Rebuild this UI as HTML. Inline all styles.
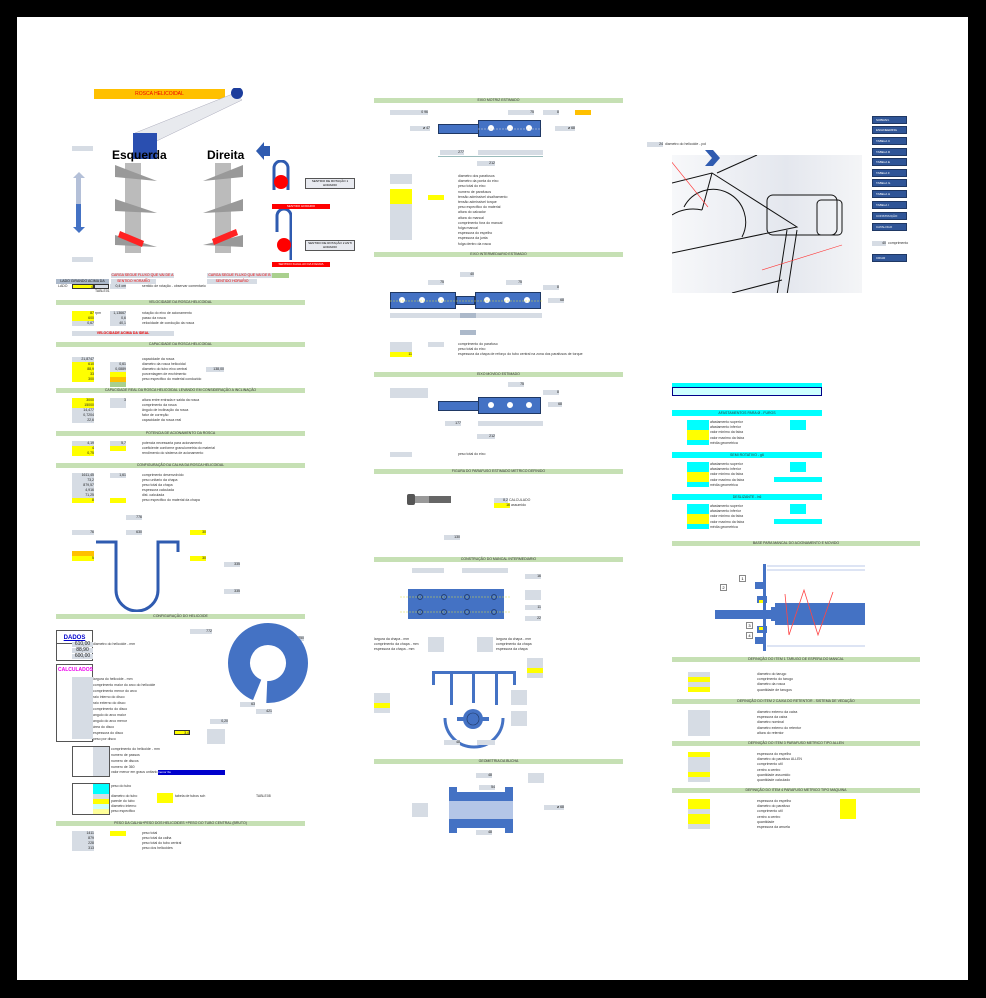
<!DOCTYPE html>
<html><head><meta charset="utf-8"><style>
*{margin:0;padding:0;box-sizing:border-box}
body{width:986px;height:998px;background:#000;position:relative;overflow:hidden;font-family:"Liberation Sans",sans-serif}
#pg{position:absolute;left:17px;top:17px;width:951px;height:963px;background:#fff}
.a{position:absolute}
.g{position:absolute;background:#c6e0b4;height:5px;font-size:3.5px;text-align:center;line-height:5px;color:#333}
.c{position:absolute;background:#00ffff;height:6px;font-size:3.5px;text-align:center;line-height:6px;color:#333}
.gr{position:absolute;background:#d6dce4;height:5px;font-size:3.5px;line-height:5px;text-align:right;color:#222}
.y{position:absolute;background:#ffff00;height:5px;font-size:3.5px;line-height:5px;text-align:right;color:#222}
.t{position:absolute;font-size:3.5px;line-height:5px;color:#333;white-space:nowrap}
.b{position:absolute;background:#4472c4}
.btn{position:absolute;left:872px;width:35px;height:8px;background:#2f5597;border:1px solid #1f3864;font-size:3px;color:#fff;line-height:6px;padding-left:3px}
</style></head><body>
<div id="pg"></div>
<!-- ===== LEFT COLUMN ===== -->
<div class="a" style="left:94px;top:89px;width:131px;height:10px;background:#ffc000;font-size:5px;color:#e00;text-align:center;line-height:10px">ROSCA HELICOIDAL</div>
<svg class="a" style="left:130px;top:88px" width="115" height="80"><polygon points="5,45 105,5 112,12 12,60" fill="#e8eaee" stroke="#aab" stroke-width=".5"/><polygon points="5,45 12,60 18,70 6,62" fill="#b8bcc4"/><rect x="3" y="45" width="24" height="26" fill="#2a4fb0"/><circle cx="107" cy="5" r="6" fill="#1c3d9c"/></svg>
<div class="a" style="left:112px;top:148px;font-size:12px;font-weight:bold">Esquerda</div>
<div class="a" style="left:207px;top:148px;font-size:12px;font-weight:bold">Direita</div>
<svg class="a" style="left:112px;top:163px" width="140" height="92">
<rect x="13" y="0" width="16" height="90" fill="#bbb"/><rect x="103" y="0" width="16" height="90" fill="#bbb"/>
<g fill="#999"><polygon points="3,2 45,18 3,14"/><polygon points="3,36 45,50 3,48"/><polygon points="3,72 45,84 3,82"/>
<polygon points="91,18 131,2 131,14"/><polygon points="91,50 131,36 131,48"/><polygon points="91,82 131,72 131,84"/></g>
<polygon points="8,68 32,78 30,84 6,74" fill="#f22"/><polygon points="100,76 124,66 126,72 102,82" fill="#f22"/></svg>
<div class="a" style="left:72px;top:146px;width:21px;height:5px;background:#d6dce4"></div>
<div class="a" style="left:72px;top:257px;width:21px;height:5px;background:#d6dce4"></div>
<svg class="a" style="left:72px;top:172px" width="14" height="62"><rect x="4" y="4" width="5" height="28" fill="#b4c0d8"/><rect x="4" y="32" width="5" height="24" fill="#4472c4"/><polygon points="1,6 7,0 13,6" fill="#b4c0d8"/><polygon points="1,55 7,61 13,55" fill="#4472c4"/></svg>
<svg class="a" style="left:256px;top:142px" width="14" height="18"><polygon points="0,9 8,0 8,4 14,4 14,14 8,14 8,18" fill="#2f5bb0"/></svg>
<svg class="a" style="left:270px;top:160px" width="22" height="110"><path d="M4,30 V8 a7,7 0 0 1 14,0 V30" stroke="#2f5bb0" stroke-width="3" fill="none"/><circle cx="11" cy="22" r="7" fill="#f00"/><path d="M7,72 V56 a7,7 0 0 1 14,0 V100" stroke="#2f5bb0" stroke-width="3" fill="none"/><circle cx="14" cy="85" r="7" fill="#f00"/></svg>
<div class="a" style="left:305px;top:178px;width:50px;height:11px;background:#e8eaf0;border:1px solid #555;font-size:3px;text-align:center">SENTIDO DE ROTAÇÃO 1 HORARIO</div>
<div class="a" style="left:305px;top:240px;width:50px;height:11px;background:#e8eaf0;border:1px solid #555;font-size:3px;text-align:center">SENTIDO DE ROTAÇÃO 2 ANTI HORARIO</div>
<div class="a" style="left:272px;top:204px;width:58px;height:5px;background:#f00;font-size:3px;color:#fff;text-align:center">SENTIDO HORARIO</div>
<div class="a" style="left:272px;top:262px;width:58px;height:5px;background:#f00;font-size:3px;color:#fff;text-align:center">SENTIDO IGUAL AO DA FIGURA</div>
<div class="gr" style="left:111px;top:273px;width:63px;text-align:center;color:#e00">CARGA SEGUE FLUXO QUE VAI DE A para B</div>
<div class="gr" style="left:207px;top:273px;width:65px;text-align:center;color:#e00">CARGA SEGUE FLUXO QUE VAI DE B para A</div>
<div class="a" style="left:272px;top:273px;width:17px;height:5px;background:#a9d08e"></div>
<div class="gr" style="left:56px;top:279px;width:53px;text-align:center;background:#acb9ca">LADO GIRANDO ACIMA DA</div>
<div class="gr" style="left:111px;top:279px;width:45px;text-align:center;color:#e00">SENTIDO HORARIO</div>
<div class="gr" style="left:207px;top:279px;width:50px;text-align:center;color:#e00">SENTIDO HORARIO</div>
<div class="t" style="left:58px;top:284px">LADO</div><div class="y" style="left:72px;top:284px;width:22px;border:1px solid #333">4</div><div class="gr" style="left:94px;top:284px;width:15px;border:1px solid #333"></div>
<div class="gr" style="left:110px;top:284px;width:16px">0,4 cm</div><div class="t" style="left:142px;top:284px">sentido de rotação - observar comentario</div>
<div class="t" style="left:95px;top:289px">TABLE01</div>

<div class="g" style="left:56px;top:300px;width:249px">VELOCIDADE DA ROSCA HELICOIDAL</div>
<div class="y" style="left:72px;top:311px;width:22px">87</div><div class="t" style="left:95px;top:311px">rpm</div><div class="gr" style="left:110px;top:311px;width:16px">1,13667</div><div class="t" style="left:142px;top:311px">rotação do eixo de acionamento</div>
<div class="y" style="left:72px;top:316px;width:22px">600</div><div class="gr" style="left:110px;top:316px;width:16px">0,6</div><div class="t" style="left:142px;top:316px">passo da rosca</div>
<div class="gr" style="left:72px;top:321px;width:22px">0,67</div><div class="gr" style="left:110px;top:321px;width:16px">40,1</div><div class="t" style="left:142px;top:321px">velocidade de condução da rosca</div>
<div class="gr" style="left:72px;top:331px;width:102px;text-align:center;color:#e00;font-weight:bold">VELOCIDADE ACIMA DA IDEAL</div>

<div class="g" style="left:56px;top:342px;width:249px">CAPACIDADE DA ROSCA HELICOIDAL</div>
<div class="gr" style="left:72px;top:357px;width:22px">21,8747</div><div class="t" style="left:142px;top:357px">capacidade da rosca</div>
<div class="y" style="left:72px;top:362px;width:22px">610</div><div class="gr" style="left:110px;top:362px;width:16px">0,61</div><div class="t" style="left:142px;top:362px">diametro da rosca helicoidal</div>
<div class="y" style="left:72px;top:367px;width:22px">88,9</div><div class="gr" style="left:110px;top:367px;width:16px">0,0889</div><div class="t" style="left:142px;top:367px">diametro do tubo eixo central</div><div class="gr" style="left:206px;top:367px;width:18px">138,00</div>
<div class="y" style="left:72px;top:372px;width:22px">33</div><div class="y" style="left:110px;top:372px;width:16px"></div><div class="t" style="left:142px;top:372px">porcentagem de enchimento</div>
<div class="y" style="left:72px;top:377px;width:22px">300</div><div class="a" style="left:110px;top:377px;width:16px;height:5px;background:#ffc000"></div><div class="t" style="left:142px;top:377px">peso especifico do material conduzido</div>
<div class="a" style="left:110px;top:382px;width:16px;height:5px;background:#a9d08e"></div>
<div class="g" style="left:56px;top:388px;width:249px">CAPACIDADE REAL DA ROSCA HELICOIDAL LEVANDO EM CONSIDERAÇÃO A INCLINAÇÃO</div>
<div class="y" style="left:72px;top:398px;width:22px">3000</div><div class="gr" style="left:110px;top:398px;width:16px;height:10px">3</div><div class="t" style="left:142px;top:398px">altura entre entrada e saida da rosca</div>
<div class="y" style="left:72px;top:403px;width:22px">15000</div><div class="t" style="left:142px;top:403px">comprimento da rosca</div>
<div class="gr" style="left:72px;top:408px;width:22px">14,477</div><div class="t" style="left:142px;top:408px">ângulo de inclinação da rosca</div>
<div class="gr" style="left:72px;top:413px;width:22px">0,7204</div><div class="t" style="left:142px;top:413px">fator de correção</div>
<div class="gr" style="left:72px;top:418px;width:22px">22,6</div><div class="t" style="left:142px;top:418px">capacidade da rosca real</div>
<div class="g" style="left:56px;top:431px;width:249px">POTENCIA DE ACIONAMENTO DA ROSCA</div>
<div class="gr" style="left:72px;top:441px;width:22px">4,19</div><div class="gr" style="left:110px;top:441px;width:16px">5,7</div><div class="t" style="left:142px;top:441px">potencia necessaria para acionamento</div>
<div class="y" style="left:72px;top:446px;width:22px">4</div><div class="y" style="left:110px;top:446px;width:16px"></div><div class="t" style="left:142px;top:446px">coeficiente conforme granulometria do material</div>
<div class="y" style="left:72px;top:451px;width:22px">0,75</div><div class="t" style="left:142px;top:451px">rendimento do sistema de acionamento</div>
<div class="g" style="left:56px;top:463px;width:249px">CONFIGURAÇÃO DA CALHA DA ROSCA HELICOIDAL</div>
<div class="gr" style="left:72px;top:473px;width:22px">1611,45</div><div class="gr" style="left:110px;top:473px;width:16px">1,61</div><div class="t" style="left:142px;top:473px">comprimento desenvolvido</div>
<div class="gr" style="left:72px;top:478px;width:22px">73,2</div><div class="t" style="left:142px;top:478px">peso unitario da chapa</div>
<div class="gr" style="left:72px;top:483px;width:22px">879,57</div><div class="t" style="left:142px;top:483px">peso total da chapa</div>
<div class="gr" style="left:72px;top:488px;width:22px">4,916</div><div class="t" style="left:142px;top:488px">espessura calculada</div>
<div class="gr" style="left:72px;top:493px;width:22px">71,25</div><div class="t" style="left:142px;top:493px">dist. calculada</div>
<div class="y" style="left:72px;top:498px;width:22px">8</div><div class="y" style="left:110px;top:498px;width:16px"></div><div class="t" style="left:142px;top:498px">peso especifico do material da chapa</div>
<div class="gr" style="left:126px;top:515px;width:16px">776</div>
<div class="gr" style="left:72px;top:530px;width:22px">76</div><div class="gr" style="left:126px;top:530px;width:16px">630</div><div class="y" style="left:190px;top:530px;width:16px">30</div>
<div class="a" style="left:72px;top:551px;width:22px;height:5px;background:#ffc000"></div><div class="y" style="left:72px;top:556px;width:22px">5</div><div class="y" style="left:190px;top:556px;width:16px">30</div>
<div class="gr" style="left:224px;top:562px;width:16px">335</div><div class="gr" style="left:224px;top:589px;width:16px">335</div>
<svg class="a" style="left:94px;top:540px" width="120" height="72"><path d="M2,2 H22 V12 M22,2 V50 a21,21 0 0 0 42,0 V2 H84 V12" stroke="#2f5bb0" stroke-width="3" fill="none"/></svg>

<div class="g" style="left:56px;top:614px;width:249px">CONFIGURAÇÃO DO HELICOIDE</div>
<div class="a" style="left:56px;top:630px;width:37px;height:14px;border:1px solid #555;font-size:6px;color:#00c;text-align:center;line-height:14px;text-decoration:underline;font-weight:bold">DADOS</div>
<div class="a" style="left:56px;top:644px;width:37px;height:17px;border:1px solid #555;border-top:none"></div>
<div class="gr" style="left:72px;top:642px;width:21px;height:5px;font-size:5px;text-align:center">610,00</div><div class="gr" style="left:72px;top:648px;width:21px;font-size:5px;text-align:center">88,90</div><div class="gr" style="left:72px;top:654px;width:21px;font-size:5px;text-align:center">600,00</div>
<div class="a" style="left:56px;top:664px;width:37px;height:78px;border:1px solid #555"></div>
<div class="a" style="left:58px;top:667px;font-size:5px;color:#e0e;font-weight:bold">CALCULADOS</div>
<div class="gr" style="left:72px;top:677px;width:21px;height:62px;background:#d6dce4"></div>
<div class="t" style="left:93px;top:642px">diametro do helicoide - mm</div>
<div class="t" style="left:93px;top:677px">largura do helicoide - mm</div><div class="t" style="left:93px;top:683px">comprimento maior do arco do helicoide</div><div class="t" style="left:93px;top:689px">comprimento menor do arco</div><div class="t" style="left:93px;top:695px">raio interno do disco</div><div class="t" style="left:93px;top:701px">raio externo do disco</div><div class="t" style="left:93px;top:707px">comprimento do disco</div><div class="t" style="left:93px;top:713px">angulo do arco maior</div><div class="t" style="left:93px;top:719px">angulo do arco menor</div><div class="t" style="left:93px;top:725px">área do disco</div><div class="t" style="left:93px;top:731px">espessura do disco</div><div class="t" style="left:93px;top:737px">peso por disco</div>
<div class="y" style="left:174px;top:730px;width:16px;border:1px solid #333">3,4</div><div class="gr" style="left:207px;top:729px;width:18px;height:15px"></div>
<div class="gr" style="left:190px;top:629px;width:22px">772</div><div class="gr" style="left:290px;top:636px;width:14px">250</div>
<div class="gr" style="left:210px;top:719px;width:18px">0,20</div>
<svg class="a" style="left:226px;top:621px" width="86" height="86"><circle cx="42" cy="42" r="29" fill="none" stroke="#4472c4" stroke-width="22" stroke-dasharray="172 10.2" transform="rotate(112 42 42)"/></svg>
<div class="gr" style="left:240px;top:702px;width:15px">63</div><div class="gr" style="left:256px;top:709px;width:16px">421</div>
<div class="a" style="left:72px;top:746px;width:38px;height:31px;border:1px solid #555"></div><div class="gr" style="left:93px;top:747px;width:16px;height:29px"></div>
<div class="t" style="left:111px;top:747px">comprimento do helicoide - mm</div><div class="t" style="left:111px;top:753px">numero de passos</div><div class="t" style="left:111px;top:759px">numero de discos</div><div class="t" style="left:111px;top:765px">numero de 360</div><div class="t" style="left:111px;top:770px">valor menor em graus unitario</div>
<div class="a" style="left:158px;top:770px;width:67px;height:5px;background:#00c;font-size:3px;color:#fff">menor 6a</div>
<div class="a" style="left:72px;top:783px;width:38px;height:32px;border:1px solid #555"></div>
<div class="c" style="left:93px;top:784px;width:16px;height:10px"></div><div class="y" style="left:93px;top:799px;width:16px"></div><div class="gr" style="left:93px;top:794px;width:16px"></div><div class="a" style="left:93px;top:804px;width:16px;height:5px;background:#ccffff"></div><div class="a" style="left:93px;top:809px;width:16px;height:5px;background:#ffff99"></div>
<div class="t" style="left:111px;top:784px">peso do tubo</div><div class="t" style="left:111px;top:794px">diametro do tubo</div><div class="t" style="left:111px;top:799px">parede do tubo</div><div class="t" style="left:111px;top:804px">diametro interno</div><div class="t" style="left:111px;top:809px">peso especifico</div>
<div class="y" style="left:157px;top:793px;width:16px;height:10px"></div><div class="t" style="left:175px;top:794px">tabela de tubos sch</div><div class="t" style="left:256px;top:794px">TABLE08</div>
<div class="g" style="left:56px;top:821px;width:249px">PESO DA CALHA+PESO DOS HELICOIDES +PESO DO TUBO CENTRAL (BRUTO)</div>
<div class="gr" style="left:72px;top:831px;width:22px">1411</div><div class="y" style="left:110px;top:831px;width:16px"></div><div class="t" style="left:142px;top:831px">peso total</div>
<div class="gr" style="left:72px;top:836px;width:22px">879</div><div class="t" style="left:142px;top:836px">peso total da calha</div>
<div class="gr" style="left:72px;top:841px;width:22px">228</div><div class="t" style="left:142px;top:841px">peso total do tubo central</div>
<div class="gr" style="left:72px;top:846px;width:22px">313</div><div class="t" style="left:142px;top:846px">peso dos helicoides</div>

<!-- ===== MIDDLE COLUMN ===== -->
<div class="g" style="left:374px;top:98px;width:249px">EIXO MOTRIZ ESTIMADO</div>
<div class="gr" style="left:390px;top:110px;width:38px">0 96</div>
<div class="gr" style="left:508px;top:110px;width:26px">75</div><div class="gr" style="left:543px;top:110px;width:16px">8</div><div class="a" style="left:575px;top:110px;width:16px;height:5px;background:#ffc000"></div>
<div class="a" style="left:438px;top:124px;width:43px;height:10px;background:#4472c4;border:1px solid #1f3864"></div>
<div class="a" style="left:478px;top:120px;width:63px;height:17px;background:#4472c4;border:1px solid #1f3864"></div>
<svg class="a" style="left:478px;top:120px" width="64" height="18"><g fill="#fff"><circle cx="13" cy="8" r="3"/><circle cx="32" cy="8" r="3"/><circle cx="51" cy="8" r="3"/></g><line x1="0" y1="9" x2="64" y2="9" stroke="#ddd" stroke-dasharray="2 1" stroke-width=".5"/></svg>
<div class="gr" style="left:410px;top:126px;width:20px">ø 47</div><div class="gr" style="left:555px;top:126px;width:20px">ø 68</div>
<div class="gr" style="left:440px;top:150px;width:24px">277</div><div class="gr" style="left:478px;top:150px;width:65px"></div><div class="gr" style="left:477px;top:161px;width:18px">212</div>
<div class="a" style="left:438px;top:156px;width:105px;border-top:1px solid #9bb"></div>
<div class="gr" style="left:390px;top:174px;width:22px;height:10px"></div>
<div class="y" style="left:390px;top:189px;width:22px;height:15px"></div><div class="y" style="left:428px;top:195px;width:16px"></div>
<div class="gr" style="left:390px;top:204px;width:22px;height:36px"></div>
<div class="t" style="left:458px;top:174px;line-height:5.2px">diametro dos parafusos<br>diametro da ponta do eixo<br>peso total do eixo<br>numero de parafusos<br>tensão admissivel cisalhamento<br>tensão admissivel torque<br>peso especifico do material<br>altura do calcador<br>altura do mancal<br>comprimento fora do mancal<br>folga mancal<br>espessura do espelho<br>espessura da junta<br>folga dentro da rosca</div>
<div class="g" style="left:374px;top:252px;width:249px">EIXO INTERMEDIARIO ESTIMADO</div>
<div class="gr" style="left:460px;top:272px;width:14px">40</div>
<div class="gr" style="left:428px;top:280px;width:16px">75</div><div class="gr" style="left:506px;top:280px;width:16px">75</div><div class="gr" style="left:543px;top:285px;width:16px">8</div>
<div class="b" style="left:390px;top:292px;width:66px;height:17px;border:1px solid #1f3864"></div>
<div class="b" style="left:456px;top:296px;width:19px;height:9px;border:1px solid #1f3864"></div>
<div class="b" style="left:475px;top:292px;width:66px;height:17px;border:1px solid #1f3864"></div>
<svg class="a" style="left:390px;top:292px" width="152" height="18"><g fill="#fff"><circle cx="12" cy="8" r="3"/><circle cx="32" cy="8" r="3"/><circle cx="51" cy="8" r="3"/><circle cx="97" cy="8" r="3"/><circle cx="117" cy="8" r="3"/><circle cx="137" cy="8" r="3"/></g><line x1="0" y1="9" x2="152" y2="9" stroke="#dd4" stroke-dasharray="2 1" stroke-width=".6"/></svg>
<div class="gr" style="left:548px;top:298px;width:16px">68</div>
<div class="gr" style="left:390px;top:313px;width:152px"></div><div class="a" style="left:460px;top:313px;width:16px;height:5px;background:#acb9ca"></div>
<div class="a" style="left:460px;top:330px;width:16px;height:5px;background:#acb9ca"></div>
<div class="gr" style="left:390px;top:342px;width:22px"></div><div class="gr" style="left:428px;top:342px;width:16px"></div><div class="gr" style="left:390px;top:347px;width:22px"></div><div class="y" style="left:390px;top:352px;width:22px">11</div>
<div class="t" style="left:458px;top:342px;line-height:5.2px">comprimento do parafuso<br>peso total do eixo<br>espessura da chapa de reforço do tubo central na zona dos parafusos de torque</div>
<div class="g" style="left:374px;top:372px;width:249px">EIXO MOVIDO ESTIMADO</div>
<div class="gr" style="left:390px;top:388px;width:38px;height:10px"></div><div class="gr" style="left:508px;top:382px;width:16px">75</div><div class="gr" style="left:543px;top:390px;width:16px">8</div>
<div class="b" style="left:438px;top:401px;width:43px;height:10px;border:1px solid #1f3864"></div>
<div class="b" style="left:478px;top:397px;width:63px;height:17px;border:1px solid #1f3864"></div>
<svg class="a" style="left:478px;top:397px" width="64" height="18"><g fill="#fff"><circle cx="13" cy="8" r="3"/><circle cx="32" cy="8" r="3"/><circle cx="51" cy="8" r="3"/></g></svg>
<div class="gr" style="left:548px;top:402px;width:14px">68</div>
<div class="gr" style="left:445px;top:421px;width:16px">177</div><div class="gr" style="left:478px;top:421px;width:65px"></div><div class="gr" style="left:477px;top:434px;width:18px">212</div>
<div class="gr" style="left:390px;top:452px;width:22px"></div><div class="t" style="left:458px;top:452px">peso total do eixo</div>
<div class="g" style="left:374px;top:469px;width:249px">FIGURA DO PARAFUSO ESTIMADO METRICO DEFINIDO</div>
<svg class="a" style="left:407px;top:493px" width="66" height="14"><rect x="0" y="1" width="8" height="11" rx="2" fill="#555"/><rect x="8" y="3" width="14" height="7" fill="#999"/><rect x="22" y="3" width="22" height="7" fill="#666"/></svg>
<div class="gr" style="left:494px;top:498px;width:14px">8,2</div><div class="t" style="left:509px;top:498px">CALCULADO</div>
<div class="y" style="left:494px;top:503px;width:16px">16</div><div class="t" style="left:511px;top:503px">assumido</div>
<div class="gr" style="left:444px;top:535px;width:16px">130</div>
<div class="g" style="left:374px;top:557px;width:249px">CONSTRUÇÃO DO MANCAL INTERMEDIARIO</div>
<div class="gr" style="left:412px;top:568px;width:32px"></div><div class="gr" style="left:462px;top:568px;width:46px"></div><div class="gr" style="left:525px;top:574px;width:16px">16</div>
<div class="b" style="left:408px;top:589px;width:96px;height:30px"></div>
<svg class="a" style="left:400px;top:589px" width="110" height="31"><line x1="0" y1="8" x2="110" y2="8" stroke="#dd4" stroke-dasharray="2 1" stroke-width=".6"/><line x1="0" y1="23" x2="110" y2="23" stroke="#dd4" stroke-dasharray="2 1" stroke-width=".6"/><g fill="none" stroke="#1f3864" stroke-width=".8"><circle cx="20" cy="8" r="2.5"/><circle cx="44" cy="8" r="2.5"/><circle cx="67" cy="8" r="2.5"/><circle cx="94" cy="8" r="2.5"/><circle cx="20" cy="23" r="2.5"/><circle cx="44" cy="23" r="2.5"/><circle cx="67" cy="23" r="2.5"/><circle cx="94" cy="23" r="2.5"/></g></svg>
<div class="gr" style="left:525px;top:590px;width:16px;height:10px"></div><div class="gr" style="left:525px;top:605px;width:16px">11</div><div class="gr" style="left:525px;top:616px;width:16px">22</div>
<div class="gr" style="left:428px;top:637px;width:16px;height:15px"></div><div class="gr" style="left:477px;top:637px;width:16px;height:15px"></div>
<div class="t" style="left:374px;top:637px;line-height:5px">largura da chapa - mm<br>comprimento da chapa - mm<br>espessura da chapa - mm</div>
<div class="t" style="left:496px;top:637px;line-height:5px">largura da chapa - mm<br>comprimento da chapa<br>espessura da chapa</div>
<div class="gr" style="left:527px;top:658px;width:16px;height:20px"></div><div class="y" style="left:527px;top:668px;width:16px"></div>
<svg class="a" style="left:430px;top:668px" width="90" height="90"><g fill="#4472c4"><rect x="2" y="3" width="84" height="3"/><rect x="2" y="5" width="3" height="12"/><rect x="83" y="5" width="3" height="12"/><rect x="20" y="5" width="3" height="32"/><rect x="65" y="5" width="3" height="32"/><rect x="42" y="5" width="3" height="30"/><circle cx="43" cy="51" r="10"/><rect x="27" y="49" width="32" height="4"/></g><path d="M15,50 a29,29 0 0 0 58,0" stroke="#4472c4" stroke-width="3" fill="none"/><circle cx="43" cy="51" r="6" fill="none" stroke="#1f3864" stroke-width=".6"/></svg>
<div class="gr" style="left:374px;top:693px;width:16px;height:20px"></div><div class="y" style="left:374px;top:703px;width:16px"></div>
<div class="gr" style="left:511px;top:690px;width:16px;height:15px"></div><div class="gr" style="left:511px;top:711px;width:16px;height:15px"></div>
<div class="gr" style="left:444px;top:740px;width:16px">48</div><div class="gr" style="left:477px;top:740px;width:18px"></div>
<div class="g" style="left:374px;top:759px;width:249px">GEOMETRIA DA BUCHA</div>
<div class="gr" style="left:476px;top:773px;width:16px">48</div><div class="gr" style="left:528px;top:773px;width:16px;height:10px"></div>
<div class="gr" style="left:479px;top:785px;width:16px">54</div>
<svg class="a" style="left:449px;top:787px" width="66" height="46"><path d="M0,0 H8 V5 H56 V0 H64 V46 H56 V41 H8 V46 H0 Z" fill="#4472c4"/><rect x="0" y="14" width="64" height="18" fill="#b4c6e7"/></svg>
<div class="gr" style="left:412px;top:803px;width:16px;height:14px"></div><div class="gr" style="left:544px;top:805px;width:20px">ø 68</div>
<div class="gr" style="left:476px;top:830px;width:16px">48</div>

<!-- ===== RIGHT COLUMN ===== -->
<div class="gr" style="left:647px;top:142px;width:16px">24</div><div class="t" style="left:665px;top:142px">diametro do helicoide - pol</div>
<div class="a" style="left:672px;top:155px;width:190px;height:138px;background:linear-gradient(90deg,#f7f8fa,#e4e7ee 60%,#f4f5f7)"></div>
<svg class="a" style="left:672px;top:155px" width="190" height="138"><g stroke="#111" fill="none" stroke-width="1"><path d="M0,28 L40,18 L125,72 L0,98"/><path d="M40,18 L30,55"/><path d="M0,60 a35,30 0 0 1 30,-5 M12,52 a30,30 0 0 1 58,30"/><rect x="95" y="40" width="70" height="40" rx="6"/><rect x="145" y="45" width="25" height="35" rx="4"/><path d="M115,75 L105,140 M125,75 L115,140"/><path d="M60,138 L110,125"/><path d="M45,18 L85,0"/></g><g stroke="#f33" stroke-width=".6"><line x1="-10" y1="-5" x2="36" y2="52"/><line x1="90" y1="115" x2="170" y2="90"/></g></svg>
<svg class="a" style="left:705px;top:150px" width="16" height="16"><polygon points="0,0 8,0 15,8 8,16 0,16 7,8" fill="#2f5bb0"/></svg>
<div class="btn" style="top:116px">SOBRAN.</div><div class="btn" style="top:126px">ENGINEERING</div><div class="btn" style="top:137px">TABELA C</div><div class="btn" style="top:148px">TABELA D</div><div class="btn" style="top:158px">TABELA E</div><div class="btn" style="top:169px">TABELA F</div><div class="btn" style="top:179px">TABELA G</div><div class="btn" style="top:190px">TABELA H</div><div class="btn" style="top:201px">TABELA I</div><div class="btn" style="top:212px">CONSTRUÇÃO</div><div class="btn" style="top:223px">CATALOGO</div><div class="btn" style="top:254px">CRIAR</div>
<div class="gr" style="left:872px;top:241px;width:14px">40</div><div class="t" style="left:888px;top:241px">comprimento</div>
<div class="c" style="left:672px;top:383px;width:150px;height:4px"></div>
<div class="a" style="left:672px;top:387px;width:150px;height:9px;background:#ccffff;border:1px solid #008"></div>
<!-- tolerances -->
<div class="c" style="left:672px;top:410px;width:150px">AFASTAMENTOS PARA Ø - FUROS</div>
<div class="c" style="left:687px;top:420px;width:22px;height:10px"></div><div class="y" style="left:687px;top:430px;width:22px;height:10px"></div><div class="c" style="left:687px;top:440px;width:22px;height:5px"></div>
<div class="c" style="left:790px;top:420px;width:16px;height:10px"></div>
<div class="t" style="left:710px;top:420px;line-height:5.2px">afastamento superior<br>afastamento inferior<br>valor minimo da faixa<br>valor maximo da faixa<br>média geometrica</div>
<div class="c" style="left:672px;top:452px;width:150px">SEMI ROTATIVO - g6</div>
<div class="c" style="left:687px;top:462px;width:22px;height:10px"></div><div class="y" style="left:687px;top:472px;width:22px;height:10px"></div><div class="c" style="left:687px;top:482px;width:22px;height:5px"></div>
<div class="c" style="left:790px;top:462px;width:16px;height:10px"></div><div class="c" style="left:774px;top:477px;width:48px;height:5px"></div>
<div class="t" style="left:710px;top:462px;line-height:5.2px">afastamento superior<br>afastamento inferior<br>valor minimo da faixa<br>valor maximo da faixa<br>média geometrica</div>
<div class="c" style="left:672px;top:494px;width:150px">DESLIZANTE - h6</div>
<div class="c" style="left:687px;top:504px;width:22px;height:10px"></div><div class="y" style="left:687px;top:514px;width:22px;height:10px"></div><div class="c" style="left:687px;top:524px;width:22px;height:5px"></div>
<div class="c" style="left:790px;top:504px;width:16px;height:10px"></div><div class="c" style="left:774px;top:519px;width:48px;height:5px"></div>
<div class="t" style="left:710px;top:504px;line-height:5.2px">afastamento superior<br>afastamento inferior<br>valor minimo da faixa<br>valor maximo da faixa<br>média geometrica</div>
<div class="g" style="left:672px;top:541px;width:248px">BASE PARA MANCAL DO ACIONAMENTO E MOVIDO</div>
<svg class="a" style="left:715px;top:560px" width="160" height="95"><g fill="#4472c4"><rect x="48" y="4" width="3" height="87"/><rect x="0" y="50" width="60" height="9"/><rect x="60" y="43" width="90" height="22"/><rect x="42" y="36" width="10" height="7"/><rect x="42" y="66" width="10" height="7"/><rect x="40" y="22" width="10" height="7"/><rect x="40" y="77" width="10" height="7"/><rect x="56" y="47" width="6" height="14"/></g><g stroke="#a4b8e0" stroke-width=".7"><line x1="52" y1="6" x2="150" y2="6"/><line x1="52" y1="10" x2="150" y2="10"/><line x1="52" y1="86" x2="150" y2="86"/></g><polyline points="70,34 74,75 89,30 103,75 118,32" stroke="#f44" fill="none" stroke-width=".8"/><rect x="44" y="40" width="4" height="3" fill="#ff0"/><rect x="44" y="67" width="4" height="3" fill="#ff0"/></svg>
<div class="a" style="left:739px;top:575px;width:7px;height:7px;border:1px solid #888;font-size:4px;text-align:center;line-height:6px">1</div>
<div class="a" style="left:720px;top:584px;width:7px;height:7px;border:1px solid #888;font-size:4px;text-align:center;line-height:6px">2</div>
<div class="a" style="left:746px;top:622px;width:7px;height:7px;border:1px solid #888;font-size:4px;text-align:center;line-height:6px">3</div>
<div class="a" style="left:746px;top:632px;width:7px;height:7px;border:1px solid #888;font-size:4px;text-align:center;line-height:6px">4</div>
<div class="g" style="left:672px;top:657px;width:248px">DEFINIÇÃO DO ITEM 1 TARUGO DE ESPERA DO MANCAL</div>
<div class="gr" style="left:688px;top:672px;width:22px"></div><div class="y" style="left:688px;top:677px;width:22px"></div><div class="gr" style="left:688px;top:682px;width:22px"></div><div class="y" style="left:688px;top:687px;width:22px"></div>
<div class="t" style="left:757px;top:672px;line-height:5.2px">diametro do tarugo<br>comprimento do tarugo<br>diametro da rosca<br>quantidade de tarugos</div>
<div class="g" style="left:672px;top:699px;width:248px">DEFINIÇÃO DO ITEM 2 CAIXA DO RETENTOR - SISTEMA DE VEDAÇÃO</div>
<div class="gr" style="left:688px;top:710px;width:22px;height:26px"></div>
<div class="t" style="left:757px;top:710px;line-height:5.2px">diametro externo da caixa<br>espessura da caixa<br>diametro nominal<br>diametro externo do retentor<br>altura do retentor</div>
<div class="g" style="left:672px;top:741px;width:248px">DEFINIÇÃO DO ITEM 3 PARAFUSO METRICO TIPO ALLEN</div>
<div class="y" style="left:688px;top:752px;width:22px"></div><div class="gr" style="left:688px;top:757px;width:22px;height:15px"></div><div class="y" style="left:688px;top:772px;width:22px"></div><div class="gr" style="left:688px;top:777px;width:22px"></div>
<div class="t" style="left:757px;top:752px;line-height:5.2px">espessura do espelho<br>diametro do parafuso ALLEN<br>comprimento util<br>centro a centro<br>quantidade assumido<br>quantidade calculado</div>
<div class="g" style="left:672px;top:788px;width:248px">DEFINIÇÃO DO ITEM 4 PARAFUSO METRICO TIPO MAQUINA</div>
<div class="y" style="left:688px;top:799px;width:22px;height:10px"></div><div class="gr" style="left:688px;top:809px;width:22px"></div><div class="y" style="left:688px;top:814px;width:22px;height:10px"></div><div class="gr" style="left:688px;top:824px;width:22px"></div>
<div class="y" style="left:840px;top:799px;width:16px;height:20px"></div>
<div class="t" style="left:757px;top:799px;line-height:5.2px">espessura do espelho<br>diametro do parafuso<br>comprimento util<br>centro a centro<br>quantidade<br>espessura da arruela</div>
</body></html>
